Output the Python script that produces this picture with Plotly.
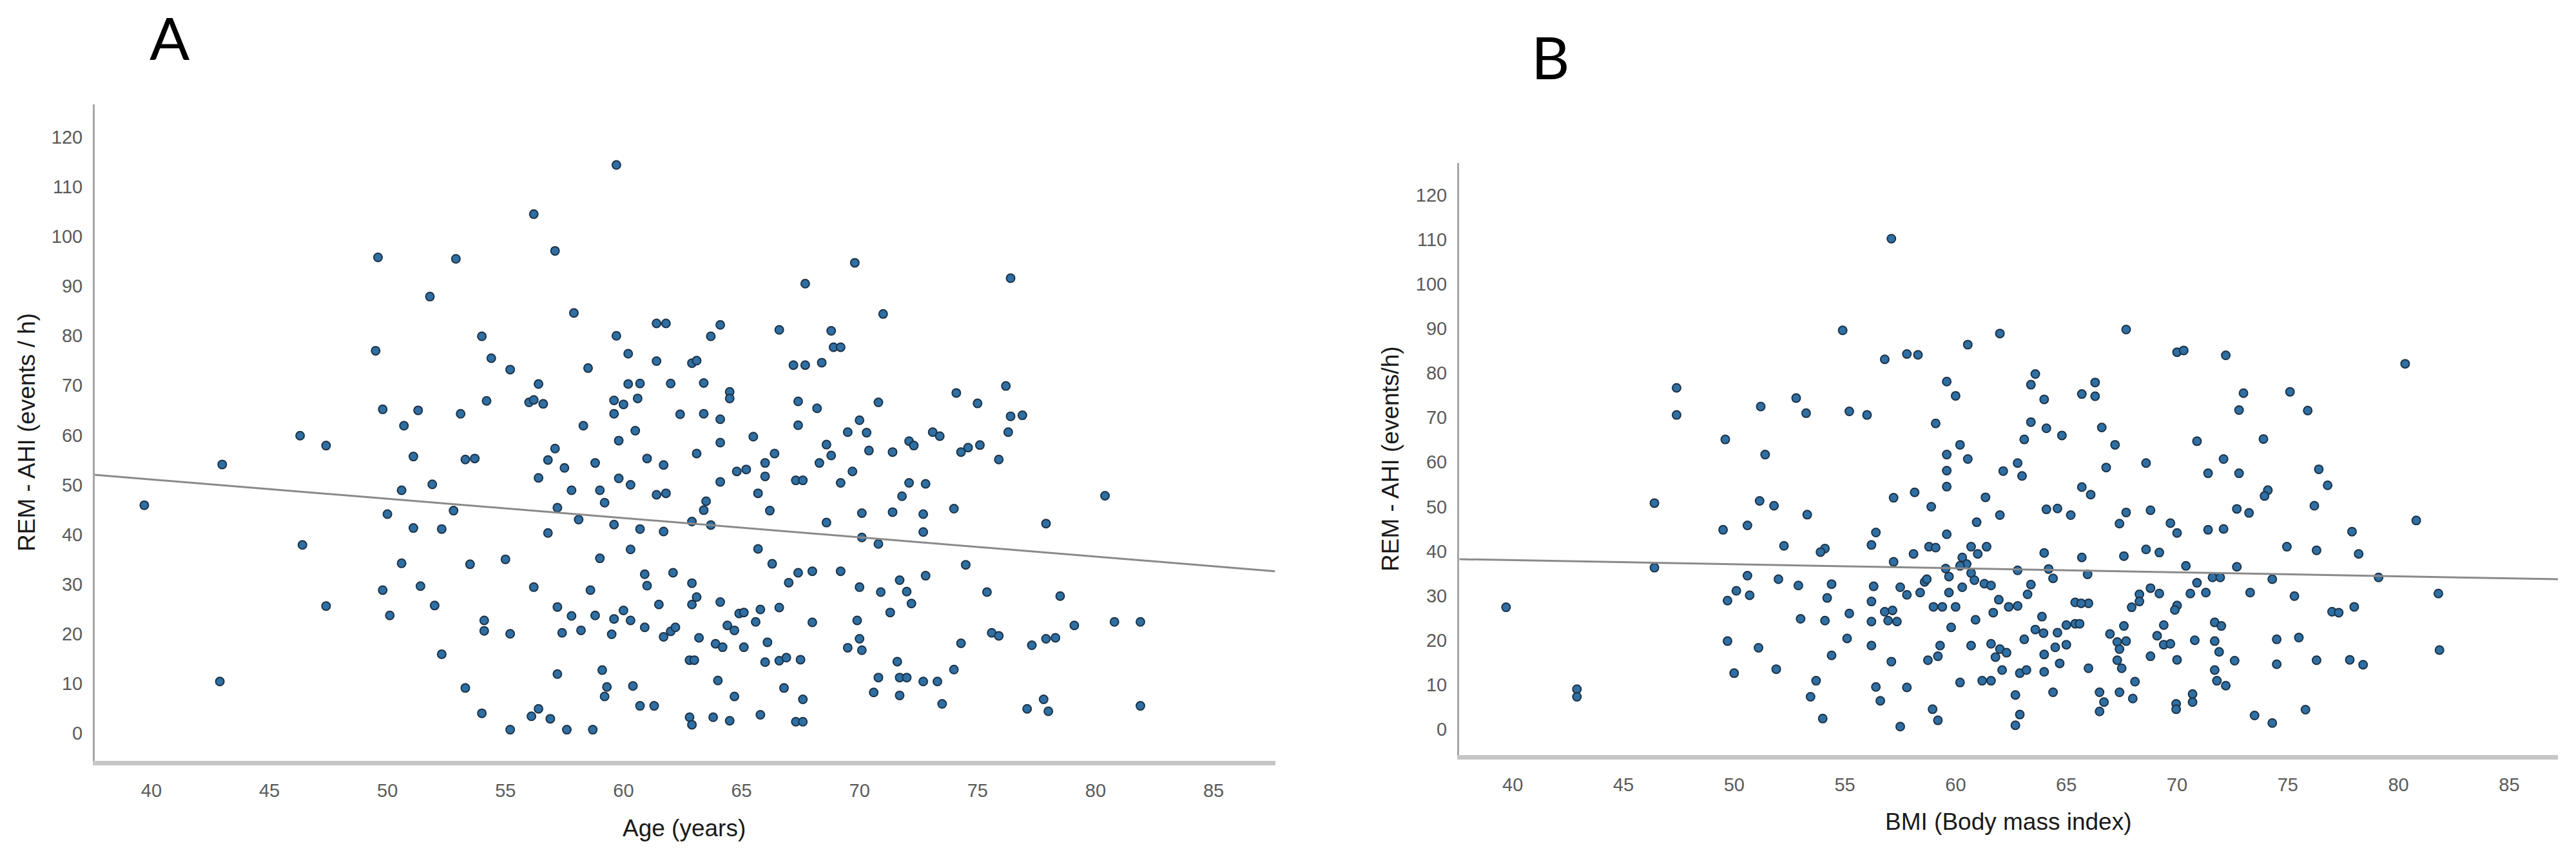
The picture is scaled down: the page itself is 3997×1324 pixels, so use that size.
import plotly.graph_objects as go

# ---------------- Panel A: Age vs REM-AHI ----------------
age_a = [39.7, 43.0, 46.3, 46.4, 42.9,
         59.7, 56.2, 49.6, 52.9, 57.1, 51.8, 57.9, 54.0, 49.5, 54.4,
         55.2, 58.5, 59.7, 61.4, 61.8, 64.1, 63.7, 60.2, 61.4, 62.9,
         63.1, 56.4, 54.2, 56.0, 56.2, 56.6, 49.8, 51.3, 53.1, 50.7,
         60.2, 60.7, 62.0, 63.4, 64.5, 64.5, 59.6, 60.0, 60.6, 59.6,
         62.4, 63.4, 64.1, 58.3, 59.8, 60.5, 64.1, 47.4, 51.1, 53.3,
         53.7, 57.1, 56.8, 57.5, 56.4, 58.8, 61.0, 61.7, 63.1, 64.8,
         59.8, 60.3, 64.1, 51.9, 50.6, 57.8, 59.0, 59.2, 61.4, 61.8,
         63.5, 63.4, 50.0, 52.8, 57.2, 58.1, 51.1, 52.3, 56.8, 59.6,
         60.7, 61.7, 62.9, 63.7, 60.3, 50.6, 53.5, 55.0, 59.0, 60.9,
         61.0, 62.1, 62.9, 49.8, 51.4, 56.2, 58.6, 47.4, 52.0, 50.1,
         54.1, 54.1, 55.2, 57.2, 57.8, 58.8, 57.4, 58.2, 59.6, 60.0,
         60.3, 59.5, 60.9, 61.5, 61.7, 62.0, 62.2, 62.9, 63.1, 64.1,
         63.2, 63.9, 64.2, 64.4, 64.7, 52.3, 62.8, 63.0, 57.2, 59.1,
         59.3, 59.2, 60.4, 64.0, 53.3, 60.7, 61.3, 64.7, 54.0, 56.1,
         56.4, 56.9, 55.2, 57.6, 58.7, 62.8, 62.9, 63.8, 64.5, 64.9,
         69.8, 76.4, 67.7, 71.0, 66.6, 68.8, 68.9, 69.2, 67.2, 67.7,
         68.4, 67.4, 68.2, 70.8, 74.1, 75.0, 76.2, 76.4, 76.9, 76.3,
         67.4, 70.0, 69.5, 70.3, 65.5, 66.4, 66.0, 66.0, 68.6, 68.8,
         68.3, 70.4, 71.4, 72.1, 72.3, 73.1, 73.4, 74.3, 74.6, 75.1,
         75.9, 65.2, 65.7, 67.3, 67.6, 69.2, 69.7, 66.2, 68.6, 70.1,
         71.4, 71.8, 72.1, 72.8, 72.7, 72.7, 74.0, 77.9, 80.4, 70.1,
         70.8, 65.7, 66.3, 67.0, 67.4, 68.0, 69.2, 70.0, 70.9, 71.7,
         72.0, 72.2, 71.3, 72.8, 74.5, 75.4, 78.5, 65.1, 65.8, 65.6,
         66.6, 68.0, 69.9, 65.1, 66.1, 66.0, 66.6, 66.9, 67.5, 69.5,
         70.0, 70.1, 74.3, 75.6, 75.9, 77.3, 77.9, 78.3, 79.1, 80.8,
         81.9, 66.8, 67.6, 65.8, 67.3, 67.6, 71.6, 70.8, 71.7, 72.0,
         72.7, 73.3, 74.0, 70.6, 71.7, 73.5, 77.1, 77.8, 78.0, 81.9]
ahi_a = [45.9, 54.1, 59.9, 37.9, 10.4,
         114.4, 104.5, 95.8, 95.5, 97.1, 87.9, 84.6, 79.9, 77.0, 75.5,
         73.2, 73.5, 80.0, 82.5, 82.5, 82.2, 79.9, 76.4, 74.9, 74.5,
         75.0, 70.3, 66.9, 66.6, 67.1, 66.3, 65.2, 65.0, 64.3, 61.9,
         70.3, 70.4, 70.4, 70.5, 68.7, 67.4, 67.0, 66.2, 67.4, 64.3,
         64.2, 64.3, 63.2, 61.9, 58.9, 60.9, 58.5, 57.9, 55.7, 55.1,
         55.3, 57.3, 55.0, 53.4, 51.4, 54.4, 55.3, 54.0, 56.3, 52.7,
         51.3, 50.0, 50.6, 50.1, 48.9, 48.9, 48.9, 46.4, 48.0, 48.3,
         46.7, 44.9, 44.1, 44.8, 45.4, 43.0, 41.3, 41.1, 40.3, 42.0,
         41.1, 40.6, 42.6, 41.9, 37.0, 34.2, 34.0, 35.0, 35.2, 32.0,
         29.7, 32.3, 30.2, 28.8, 29.6, 29.4, 28.8, 25.6, 25.7, 23.7,
         22.7, 20.6, 20.0, 25.4, 23.6, 23.7, 20.2, 20.7, 23.0, 24.7,
         22.7, 19.9, 21.3, 25.9, 19.4, 20.5, 21.3, 25.9, 27.4, 26.4,
         19.2, 18.0, 17.3, 21.7, 20.7, 15.9, 14.7, 14.7, 11.9, 12.7,
         9.3, 7.4, 9.5, 10.6, 9.1, 5.5, 5.5, 7.4, 4.0, 3.4,
         4.9, 2.9, 0.7, 0.7, 0.7, 3.2, 1.7, 3.2, 2.5, 24.1,
         94.7, 91.6, 90.5, 84.4, 81.2, 81.0, 77.7, 77.7, 74.1, 74.1,
         74.6, 66.8, 65.4, 66.6, 68.5, 66.4, 69.9, 63.8, 64.0, 60.6,
         62.0, 63.0, 60.6, 60.5, 59.7, 56.3, 54.4, 51.7, 58.1, 55.9,
         54.4, 56.9, 56.6, 58.8, 57.9, 60.6, 59.8, 56.6, 57.5, 58.0,
         55.1, 53.1, 48.3, 50.9, 50.9, 50.4, 52.7, 44.8, 42.4, 44.3,
         44.5, 47.7, 50.4, 50.2, 44.1, 40.5, 45.2, 42.2, 47.8, 39.4,
         38.1, 37.1, 34.1, 30.3, 32.3, 32.6, 32.6, 29.4, 28.4, 30.8,
         28.5, 26.1, 24.3, 31.7, 33.9, 28.4, 27.6, 24.3, 24.9, 22.4,
         25.3, 22.3, 22.7, 17.3, 18.3, 14.3, 14.6, 15.2, 14.8, 17.2,
         19.0, 16.7, 18.1, 20.2, 19.6, 17.7, 19.0, 19.2, 21.7, 22.4,
         22.4, 9.1, 6.8, 3.7, 2.3, 2.3, 14.4, 11.2, 11.2, 11.2,
         10.4, 10.4, 12.8, 8.2, 7.6, 5.9, 4.9, 6.8, 4.4, 5.5]
fit_a_x = [37.6, 87.6]
fit_a_y = [52.0, 32.6]

# ---------------- Panel B: BMI vs REM-AHI ----------------
bmi_b = [39.7, 42.9, 42.9,
         57.1, 54.9, 56.8, 57.8, 58.3, 60.55, 62.0, 47.4, 47.4, 51.2,
         52.8, 53.25, 55.2, 56.0, 49.6, 51.4, 59.6, 60.0, 59.1, 60.2,
         59.6, 60.55, 59.6, 59.6, 63.4, 63.6, 64.0, 63.4, 64.1, 64.8,
         63.1, 62.15, 62.8, 63.0, 46.4, 51.15, 51.8, 53.3, 50.6, 49.5,
         57.2, 58.15, 58.9, 61.35, 60.95, 62.0, 64.1, 64.6, 65.2, 56.4,
         56.2, 52.25, 54.1, 53.9, 57.2, 58.1, 58.8, 59.1, 59.6, 60.7,
         61.4, 61.0, 60.3, 60.5, 60.2, 60.7, 64.0, 46.4, 59.55, 62.8,
         64.2, 64.4, 50.6, 52.0, 52.9, 54.4, 50.1, 49.7, 50.7, 54.2,
         56.3, 56.2, 57.5, 57.8, 58.6, 58.7, 58.4, 59.7, 59.7, 60.3,
         60.85, 61.3, 61.6, 63.4, 63.25, 61.95, 62.4, 62.8, 59.0, 59.4,
         60.0, 56.8, 57.15, 56.95, 57.35, 53.0, 54.1, 55.2, 56.2, 60.9,
         61.7, 63.9, 65.4, 59.8, 63.6, 63.97, 64.6, 65.0, 65.4, 49.7,
         51.1, 55.1, 56.2, 59.3, 59.2, 58.75, 60.7, 61.6, 62.0, 62.3,
         61.8, 63.1, 64.0, 64.5, 65.0, 54.4, 57.1, 50.0, 51.9, 62.1,
         62.9, 63.2, 64.0, 64.7, 53.7, 53.45, 56.4, 56.6, 57.8, 60.2,
         61.2, 61.6, 62.7, 64.4, 54.0, 57.5, 58.96, 59.2, 62.9, 62.7,
         67.7, 70.0, 70.3, 72.2, 80.3, 66.3, 65.7, 66.3, 73.0, 75.1,
         72.8, 75.9, 66.6, 67.2, 70.9, 73.9, 66.8, 68.6, 72.1, 71.4,
         72.8, 76.4, 76.8, 65.7, 66.1, 74.1, 73.95, 76.2, 67.7, 67.4,
         68.8, 69.7, 70.0, 71.4, 72.1, 72.7, 73.25, 77.9, 80.8, 65.7,
         67.6, 68.6, 69.2, 74.96, 76.3, 78.2, 70.4, 72.7, 65.96, 71.6,
         71.95, 74.3, 79.1, 81.8, 70.9, 71.3, 70.6, 68.8, 69.2, 68.3,
         68.3, 67.95, 66.0, 65.67, 70.0, 69.9, 73.3, 75.3, 77.0, 77.3,
         78.0, 65.6, 67.6, 66.97, 67.3, 67.7, 67.4, 69.4, 69.1, 69.4,
         69.7, 70.8, 71.7, 72.0, 71.7, 71.9, 68.8, 70.0, 72.6, 74.5,
         75.5, 74.5, 76.3, 77.8, 78.4, 81.85, 66.0, 67.3, 67.5, 68.1,
         71.7, 71.8, 72.2, 66.5, 66.7, 66.5, 67.4, 68.0, 69.96, 69.96,
         70.7, 70.7, 73.5, 74.3, 75.8]
ahi_b = [27.4, 9.0, 7.3,
         110.2, 89.6, 83.1, 84.3, 84.1, 86.4, 88.9, 76.7, 70.6, 72.5,
         74.4, 71.0, 71.4, 70.6, 65.1, 61.7, 78.1, 74.9, 68.7, 63.9,
         61.7, 60.7, 58.1, 54.5, 77.4, 79.8, 74.1, 69.0, 67.6, 66.0,
         65.1, 58.0, 59.8, 56.9, 50.8, 51.3, 50.2, 48.2, 45.8, 44.8,
         52.0, 53.2, 50.0, 52.1, 46.5, 48.1, 49.4, 49.6, 48.1, 44.2,
         41.4, 41.2, 40.6, 39.8, 37.6, 39.4, 41.0, 40.8, 43.8, 41.0,
         41.0, 39.4, 38.6, 37.1, 36.7, 35.1, 39.6, 36.3, 36.1, 35.7,
         36.0, 33.9, 34.5, 33.7, 32.3, 32.6, 31.1, 28.9, 30.1, 29.5,
         32.1, 28.7, 31.9, 30.2, 33.1, 33.7, 30.7, 34.3, 30.7, 31.9,
         33.5, 32.7, 32.3, 32.5, 30.3, 29.1, 27.5, 27.7, 27.5, 27.5,
         27.5, 26.4, 26.7, 24.4, 24.2, 24.8, 24.4, 26.0, 24.2, 24.6,
         26.2, 25.3, 28.5, 22.9, 22.4, 21.6, 21.7, 23.4, 23.7, 19.8,
         18.3, 20.4, 18.8, 18.8, 16.4, 15.5, 18.8, 19.2, 18.0, 17.2,
         16.2, 20.2, 16.8, 18.4, 19.0, 16.6, 15.2, 12.6, 13.5, 13.3,
         12.6, 13.3, 12.9, 14.8, 10.9, 7.3, 9.5, 6.4, 9.4, 10.5,
         10.9, 10.9, 7.7, 8.3, 2.4, 0.6, 4.5, 2.0, 3.3, 0.9,
         89.8, 84.7, 85.1, 84.0, 82.1, 77.9, 75.3, 74.8, 75.5, 75.8,
         71.7, 71.6, 67.8, 63.9, 64.7, 65.2, 58.8, 59.8, 60.7, 57.5,
         57.5, 58.4, 54.8, 54.4, 52.7, 53.7, 52.4, 50.2, 48.7, 46.2,
         49.2, 46.3, 44.1, 44.8, 45.0, 49.5, 48.6, 44.4, 46.9, 38.6,
         38.9, 40.4, 39.7, 41.0, 40.2, 39.4, 36.7, 36.5, 34.8, 34.1,
         34.1, 33.7, 34.1, 30.5, 32.9, 30.7, 30.5, 31.7, 30.5, 30.3,
         28.7, 27.4, 28.3, 28.3, 27.8, 26.8, 30.7, 29.9, 26.4, 26.2,
         27.5, 23.7, 23.2, 21.4, 19.6, 19.8, 18.0, 23.4, 21.0, 19.0,
         19.2, 20.0, 24.0, 23.2, 19.8, 17.4, 16.4, 15.6, 15.4, 20.2,
         20.6, 14.6, 15.5, 15.6, 14.5, 17.8, 13.7, 15.5, 13.7, 10.7,
         13.3, 10.9, 9.8, 8.3, 6.1, 4.0, 8.3, 6.9, 5.7, 4.5,
         7.9, 6.1, 3.1, 1.4, 4.4]
fit_b_x = [37.6, 87.2]
fit_b_y = [38.2, 33.7]

x_ticks = [40, 45, 50, 55, 60, 65, 70, 75, 80, 85]
y_ticks = [0, 10, 20, 30, 40, 50, 60, 70, 80, 90, 100, 110, 120]

W, H = 3997, 1324
marker_style = dict(size=13, color="#2f6fa3", line=dict(color="#1c3348", width=2))
fit_style = dict(color="#8a8a8a", width=3)

fig = go.Figure()
fig.add_trace(go.Scatter(x=age_a, y=ahi_a, mode="markers", marker=marker_style,
                         xaxis="x", yaxis="y", showlegend=False))
fig.add_trace(go.Scatter(x=fit_a_x, y=fit_a_y, mode="lines", line=fit_style,
                         xaxis="x", yaxis="y", showlegend=False))
fig.add_trace(go.Scatter(x=bmi_b, y=ahi_b, mode="markers", marker=marker_style,
                         xaxis="x2", yaxis="y2", showlegend=False))
fig.add_trace(go.Scatter(x=fit_b_x, y=fit_b_y, mode="lines", line=fit_style,
                         xaxis="x2", yaxis="y2", showlegend=False))

tick_font = dict(family="Liberation Sans Narrow, Arial Narrow, Liberation Sans, Arial", size=29, color="#5a5a5a")

def xax(domain, rng, anchor):
    return dict(domain=domain, range=rng, anchor=anchor, tickvals=x_ticks,
                showline=True, linecolor="#c6c6c6", linewidth=7, ticks="",
                showgrid=False, zeroline=False, tickfont=tick_font,
                ticklabelstandoff=14)

def yax(domain, rng, anchor):
    return dict(domain=domain, range=rng, anchor=anchor, tickvals=y_ticks,
                showline=True, linecolor="#a6a6a6", linewidth=3, ticks="",
                showgrid=False, zeroline=False, tickfont=tick_font,
                ticklabelstandoff=10)

fig.update_layout(
    width=W, height=H,
    margin=dict(l=0, r=0, t=0, b=0),
    paper_bgcolor="white", plot_bgcolor="white",
    xaxis=xax([147 / W, 1979 / W], [37.6, 87.62], "y"),
    yaxis=yax([1 - 1181 / H, 1 - 162 / H], [-5.58, 126.6], "x"),
    xaxis2=xax([2264 / W, 3969 / W], [37.58, 87.2], "y2"),
    yaxis2=yax([1 - 1172 / H, 1 - 253 / H], [-5.8, 127.2], "x2"),
)

title_font = dict(family="Liberation Sans, Arial", size=37, color="#1a1a1a")
panel_font = dict(family="Lato, Liberation Sans, Arial", size=92, color="#000000")

def ann(text, px, py, font, angle=0, yanchor="middle"):
    fig.add_annotation(text=text, x=px / W, y=1 - py / H, xref="paper", yref="paper",
                       xanchor="center", yanchor=yanchor, showarrow=False,
                       font=font, textangle=angle)

ann("A", 263, 0, panel_font, yanchor="top")
ann("B", 2405, 30, panel_font, yanchor="top")
ann("Age (years)", 1061, 1285, title_font)
ann("BMI (Body mass index)", 3116, 1275, title_font)
ann("REM - AHI (events / h)", 41, 671, title_font, -90)
ann("REM - AHI (events/h)", 2157, 712, title_font, -90)

fig.write_html("out.html")
